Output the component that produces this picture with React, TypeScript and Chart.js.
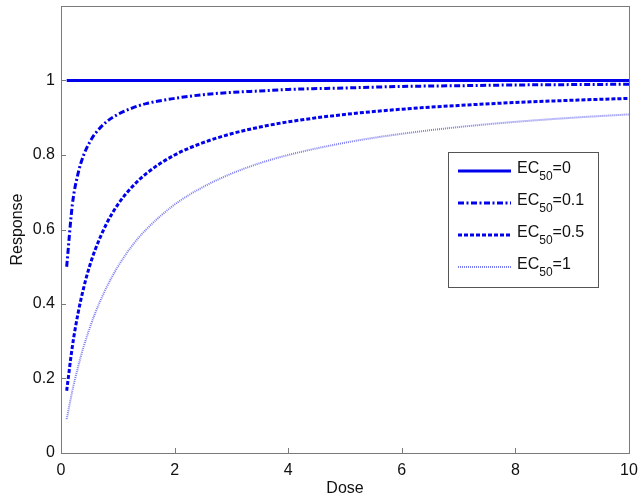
import React, { useEffect, useRef } from "react";
import { Chart, registerables } from "chart.js";

Chart.register(...registerables);

const doses = [0.1, 0.2, 0.3, 0.4, 0.5, 0.6, 0.8, 1, 1.25, 1.5, 2, 2.5, 3, 3.5, 4, 5, 6, 7, 8, 9, 10];
const ec0 = [1, 1, 1, 1, 1, 1, 1, 1, 1, 1, 1, 1, 1, 1, 1, 1, 1, 1, 1, 1, 1];
const ec01 = [0.5, 0.667, 0.75, 0.8, 0.833, 0.857, 0.889, 0.909, 0.926, 0.938, 0.952, 0.962, 0.968, 0.972, 0.976, 0.98, 0.984, 0.986, 0.988, 0.989, 0.99];
const ec05 = [0.167, 0.286, 0.375, 0.444, 0.5, 0.545, 0.615, 0.667, 0.714, 0.75, 0.8, 0.833, 0.857, 0.875, 0.889, 0.909, 0.923, 0.933, 0.941, 0.947, 0.952];
const ec1 = [0.091, 0.167, 0.231, 0.286, 0.333, 0.375, 0.444, 0.5, 0.556, 0.6, 0.667, 0.714, 0.75, 0.778, 0.8, 0.833, 0.857, 0.875, 0.889, 0.9, 0.909];
const seriesLabels = ["0", "0.1", "0.5", "1"];
const xTicks = [0, 2, 4, 6, 8, 10];
const yTicks = [0, 0.2, 0.4, 0.6, 0.8, 1];

const BLUE = "rgb(0,0,235)";
const LIGHT = "rgba(110,110,240,0.9)";
const styles = [
  { color: BLUE, width: 3, dash: [] as number[] },
  { color: BLUE, width: 3, dash: [6, 2.5, 2, 2.5] },
  { color: BLUE, width: 3, dash: [4, 2] },
  { color: LIGHT, width: 2, dash: [1, 1] },
];

const FONT = "'Liberation Sans', Arial, sans-serif";

const framePlugin = {
  id: "frame",
  afterDraw(chart: any) {
    const { ctx, chartArea: a, scales } = chart;
    ctx.save();
    ctx.strokeStyle = "#7a7a7a";
    ctx.lineWidth = 1;
    ctx.strokeRect(a.left + 0.5, a.top + 0.5, a.right - a.left, a.bottom - a.top);
    ctx.beginPath();
    xTicks.forEach((v) => {
      const x = Math.round(scales.x.getPixelForValue(v)) + 0.5;
      ctx.moveTo(x, a.bottom);
      ctx.lineTo(x, a.bottom - 5);
    });
    yTicks.forEach((v) => {
      const y = Math.round(scales.y.getPixelForValue(v)) + 0.5;
      ctx.moveTo(a.left, y);
      ctx.lineTo(a.left + 5, y);
    });
    ctx.stroke();

    // legend
    const lx = 448, ly = 152, lw = 150, lh = 135;
    ctx.fillStyle = "#fff";
    ctx.fillRect(lx, ly, lw, lh);
    ctx.strokeStyle = "#555";
    ctx.strokeRect(lx + 0.5, ly + 0.5, lw, lh);
    seriesLabels.forEach((lab, i) => {
      const y = 171 + i * 32;
      const s = styles[i];
      ctx.beginPath();
      ctx.strokeStyle = s.color;
      ctx.lineWidth = s.width;
      ctx.setLineDash(s.dash);
      ctx.moveTo(458, y);
      ctx.lineTo(511, y);
      ctx.stroke();
      ctx.setLineDash([]);
      ctx.fillStyle = "#111";
      ctx.textBaseline = "middle";
      ctx.textAlign = "left";
      ctx.font = `16px ${FONT}`;
      ctx.fillText("EC", 517, y - 2);
      let w = ctx.measureText("EC").width;
      ctx.font = `12px ${FONT}`;
      ctx.fillText("50", 517 + w, y + 6);
      w += ctx.measureText("50").width;
      ctx.font = `16px ${FONT}`;
      ctx.fillText("=" + lab, 517 + w, y - 2);
    });
    ctx.restore();
  },
};

export default function App() {
  const ref = useRef<HTMLCanvasElement>(null);
  useEffect(() => {
    document.body.style.margin = "0";
    const data = [ec0, ec01, ec05, ec1];
    const chart = new Chart(ref.current!, {
      type: "line",
      data: {
        datasets: data.map((arr, i) => ({
          label: "EC50=" + seriesLabels[i],
          data: doses.map((d, j) => ({ x: d, y: arr[j] })),
          borderColor: styles[i].color,
          borderWidth: styles[i].width,
          borderDash: styles[i].dash,
          pointRadius: 0,
          fill: false,
          cubicInterpolationMode: "monotone" as const,
        })),
      },
      options: {
        animation: false,
        responsive: false,
        layout: { padding: { top: 6, right: 11, left: 0, bottom: 0 } },
        plugins: { legend: { display: false }, tooltip: { enabled: false } },
        scales: {
          x: {
            type: "linear",
            min: 0,
            max: 10,
            afterBuildTicks: (s: any) => { s.ticks = xTicks.map((v) => ({ value: v })); },
            afterFit: (s: any) => { s.height = 48; s.paddingLeft = 0; s.paddingRight = 0; },
            grid: { display: false, drawTicks: false },
            border: { display: false },
            ticks: { color: "#111", font: { size: 16, family: FONT }, padding: 8, maxRotation: 0 },
            title: { display: true, text: "Dose", color: "#111", font: { size: 16, family: FONT }, padding: { top: 0, bottom: 3 } },
          },
          y: {
            type: "linear",
            min: 0,
            max: 1.2,
            afterBuildTicks: (s: any) => { s.ticks = yTicks.map((v) => ({ value: v })); },
            afterFit: (s: any) => { s.width = 61; s.paddingTop = 0; s.paddingBottom = 0; },
            grid: { display: false, drawTicks: false },
            border: { display: false },
            ticks: {
              color: "#111",
              font: { size: 16, family: FONT },
              padding: 6,
              callback: (v: any) => String(Number(Number(v).toFixed(1))),
            },
            title: { display: true, text: "Response", color: "#111", font: { size: 16, family: FONT }, padding: { top: 8, bottom: 0 } },
          },
        },
      },
      plugins: [framePlugin],
    });
    return () => chart.destroy();
  }, []);
  return (
    <div style={{ width: 640, height: 501 }}>
      <canvas ref={ref} width={640} height={501} style={{ display: "block" }} />
    </div>
  );
}
